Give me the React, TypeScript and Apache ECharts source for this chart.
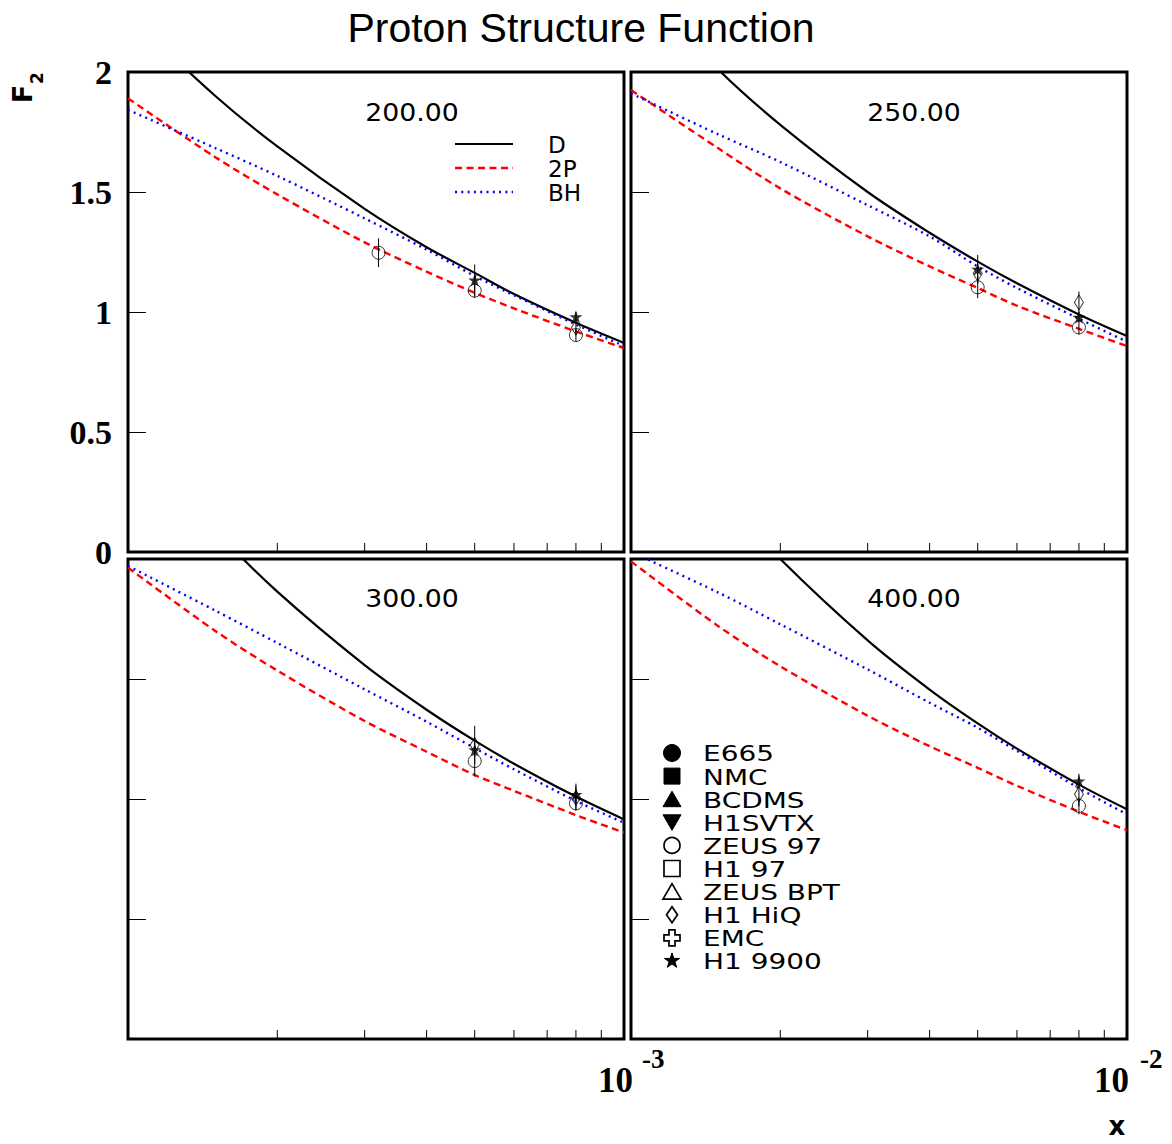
import React, { useEffect, useRef } from 'react';
import * as echarts from 'echarts';

// ---------- data ----------
const X_NODES = [0.001, 0.0015, 0.002, 0.003, 0.004, 0.005, 0.006, 0.008, 0.01];
const X_MINOR_TICKS = [0.002, 0.003, 0.004, 0.005, 0.006, 0.007, 0.008, 0.009];
const Q2_LABELS = ['200.00', '250.00', '300.00', '400.00'];

const D_200 = [2.24, 1.9, 1.69, 1.43, 1.27, 1.163, 1.075, 0.955, 0.871];
const P2_200 = [1.89, 1.645, 1.49, 1.29, 1.168, 1.08, 1.015, 0.919, 0.85];
const BH_200 = [1.842, 1.683, 1.567, 1.39, 1.26, 1.15, 1.07, 0.948, 0.858];

const D_250 = [2.39, 2.01, 1.78, 1.5, 1.33, 1.21, 1.12, 0.99, 0.9];
const P2_250 = [1.925, 1.682, 1.515, 1.315, 1.19, 1.1, 1.026, 0.93, 0.858];
const BH_250 = [1.911, 1.74, 1.625, 1.445, 1.315, 1.19, 1.1, 0.972, 0.876];

const D_300 = [2.53, 2.12, 1.864, 1.558, 1.372, 1.243, 1.147, 1.01, 0.915];
const P2_300 = [1.964, 1.7, 1.535, 1.325, 1.197, 1.1, 1.034, 0.933, 0.86];
const BH_300 = [1.971, 1.785, 1.65, 1.457, 1.322, 1.212, 1.124, 0.992, 0.901];

const D_400 = [2.75, 2.28, 2.0, 1.661, 1.456, 1.315, 1.21, 1.06, 0.957];
const P2_400 = [1.99, 1.72, 1.553, 1.347, 1.22, 1.13, 1.055, 0.947, 0.87];
const BH_400 = [2.03, 1.86, 1.728, 1.54, 1.401, 1.297, 1.2, 1.045, 0.936];

// [x, F2, error]
const ZEUS97_200 = [[0.0032, 1.247, 0.06], [0.005, 1.089, 0.03], [0.008, 0.904, 0.025]];
const H19900_200 = [[0.005, 1.133, 0.065], [0.008, 0.98, 0.02]];
const H1HIQ_200 = [[0.008, 0.935, 0.03]];

const ZEUS97_250 = [[0.005, 1.103, 0.045], [0.008, 0.936, 0.03]];
const H19900_250 = [[0.005, 1.178, 0.06], [0.008, 0.978, 0.02]];
const H1HIQ_250 = [[0.005, 1.16, 0.04], [0.008, 1.04, 0.045]];

const ZEUS97_300 = [[0.005, 1.158, 0.065], [0.008, 0.982, 0.03]];
const H19900_300 = [[0.005, 1.205, 0.03], [0.008, 1.019, 0.045]];
const H1HIQ_300 = [[0.005, 1.225, 0.08], [0.008, 1.005, 0.05]];

const ZEUS97_400 = [[0.008, 0.971, 0.035]];
const H19900_400 = [[0.008, 1.075, 0.03]];
const H1HIQ_400 = [[0.008, 1.02, 0.05]];

const CURVE_NAMES = ['D', '2P', 'BH'];
const EXPT_NAMES = ['E665', 'NMC', 'BCDMS', 'H1SVTX', 'ZEUS 97', 'H1 97', 'ZEUS BPT', 'H1 HiQ', 'EMC', 'H1 9900'];

// ---------- layout ----------
const PANELS = [
  { left: 128, top: 72, D: D_200, P: P2_200, B: BH_200, zeus: ZEUS97_200, star: H19900_200, hiq: H1HIQ_200, label: Q2_LABELS[0] },
  { left: 631, top: 72, D: D_250, P: P2_250, B: BH_250, zeus: ZEUS97_250, star: H19900_250, hiq: H1HIQ_250, label: Q2_LABELS[1] },
  { left: 128, top: 559, D: D_300, P: P2_300, B: BH_300, zeus: ZEUS97_300, star: H19900_300, hiq: H1HIQ_300, label: Q2_LABELS[2] },
  { left: 631, top: 559, D: D_400, P: P2_400, B: BH_400, zeus: ZEUS97_400, star: H19900_400, hiq: H1HIQ_400, label: Q2_LABELS[3] },
];
const PW = 496;
const PH = 480;

const STAR_PATH =
  'path://M0,-10L2.245,-3.09L9.51,-3.09L3.633,1.18L5.878,8.09L0,3.82L-5.878,8.09L-3.633,1.18L-9.51,-3.09L-2.245,-3.09Z';

function starPoints(cx: number, cy: number, R: number) {
  const pts: number[][] = [];
  for (let k = 0; k < 10; k++) {
    const r = k % 2 === 0 ? R : R * 0.382;
    const a = -Math.PI / 2 + (k * Math.PI) / 5;
    pts.push([cx + r * Math.cos(a), cy + r * Math.sin(a)]);
  }
  return pts;
}

function plusPoints(cx: number, cy: number, a: number, w: number) {
  return [
    [cx - w, cy - a], [cx + w, cy - a], [cx + w, cy - w], [cx + a, cy - w],
    [cx + a, cy + w], [cx + w, cy + w], [cx + w, cy + a], [cx - w, cy + a],
    [cx - w, cy + w], [cx - a, cy + w], [cx - a, cy - w], [cx - w, cy - w],
  ];
}

function txt(x: number, y: number, text: string, opts: any = {}) {
  const align = opts.align || 'left';
  const valign = opts.valign || 'middle';
  return {
    type: 'text',
    x,
    y,
    rotation: opts.rotation || 0,
    scaleX: opts.scaleX || 1,
    scaleY: opts.scaleY || 1,
    z: 100,
    style: {
      text,
      fontSize: opts.size || 20,
      fontFamily: opts.family || 'DejaVu Sans',
      fontWeight: opts.weight || 'normal',
      fill: opts.color || '#000',
      textAlign: align,
      align,
      textVerticalAlign: valign,
      verticalAlign: valign,
    },
  };
}

function buildOption() {
  const grid: any[] = [];
  const xAxis: any[] = [];
  const yAxis: any[] = [];
  const series: any[] = [];

  PANELS.forEach((p, i) => {
    grid.push({
      left: p.left,
      top: p.top,
      width: PW,
      height: PH,
      show: true,
      borderColor: '#000',
      borderWidth: 3,
      backgroundColor: 'transparent',
      containLabel: false,
      outerBoundsMode: 'none',
    });
    xAxis.push({
      type: 'log',
      logBase: 10,
      min: 0.001,
      max: 0.01,
      gridIndex: i,
      axisLine: { show: false },
      axisTick: { show: false },
      axisLabel: { show: false },
      splitLine: { show: false },
      minorTick: { show: false },
    });
    yAxis.push({
      type: 'value',
      min: 0,
      max: 2,
      interval: 0.5,
      gridIndex: i,
      axisLine: { show: false },
      axisTick: { show: true, inside: true, length: 18, lineStyle: { color: '#000', width: 1 } },
      splitLine: { show: false },
      axisLabel:
        i === 0
          ? { show: true, color: '#000', fontFamily: 'Liberation Serif', fontWeight: 'bold', fontSize: 34, margin: 16 }
          : { show: false },
    });

    const toPts = (arr: number[]) => X_NODES.map((x, k) => [x, arr[k]]);
    const lineBase = { type: 'line', xAxisIndex: i, yAxisIndex: i, showSymbol: false, smooth: 0.3, clip: true, silent: true, z: 3 };
    series.push({ ...lineBase, name: 'D', data: toPts(p.D), lineStyle: { color: '#000', width: 2.2, type: 'solid' } });
    series.push({ ...lineBase, name: '2P', data: toPts(p.P), lineStyle: { color: '#ff0000', width: 2.4, type: [7, 4.5] } });
    series.push({ ...lineBase, name: 'BH', data: toPts(p.B), lineStyle: { color: '#0000ff', width: 2.4, type: [2, 4.3] } });

    // minor x ticks along the bottom edge
    series.push({
      type: 'custom',
      xAxisIndex: i,
      yAxisIndex: i,
      silent: true,
      z: 4,
      data: X_MINOR_TICKS.map((v) => [v, 0]),
      renderItem: (params: any, api: any) => {
        const c = api.coord([api.value(0), 0]);
        return {
          type: 'line',
          shape: { x1: c[0], y1: c[1], x2: c[0], y2: c[1] - 9 },
          style: { stroke: '#000', lineWidth: 1 },
        };
      },
    });

    // error bars
    series.push({
      type: 'custom',
      xAxisIndex: i,
      yAxisIndex: i,
      silent: true,
      z: 5,
      data: [...p.zeus, ...p.star, ...p.hiq],
      renderItem: (params: any, api: any) => {
        const x = api.value(0);
        const y = api.value(1);
        const e = api.value(2);
        const a = api.coord([x, y - e]);
        const b = api.coord([x, y + e]);
        return {
          type: 'line',
          shape: { x1: a[0], y1: a[1], x2: b[0], y2: b[1] },
          style: { stroke: '#000', lineWidth: 1 },
        };
      },
    });

    const sc = { type: 'scatter', xAxisIndex: i, yAxisIndex: i, silent: true, z: 6 };
    series.push({
      ...sc,
      name: 'H1 HiQ',
      symbol: 'diamond',
      symbolSize: [9, 15],
      data: p.hiq.map((d) => [d[0], d[1]]),
      itemStyle: { color: 'rgba(0,0,0,0)', borderColor: '#000', borderWidth: 1 },
    });
    series.push({
      ...sc,
      name: 'ZEUS 97',
      symbol: 'circle',
      symbolSize: 13,
      data: p.zeus.map((d) => [d[0], d[1]]),
      itemStyle: { color: 'rgba(0,0,0,0)', borderColor: '#000', borderWidth: 1 },
    });
    series.push({
      ...sc,
      name: 'H1 9900',
      symbol: STAR_PATH,
      symbolSize: 13,
      data: p.star.map((d) => [d[0], d[1]]),
      itemStyle: { color: '#000' },
    });
  });

  const graphic: any[] = [];
  graphic.push(txt(581, 28, 'Proton Structure Function', { align: 'center', size: 41, family: 'Liberation Sans' }));
  graphic.push(txt(22, 94, 'F', { align: 'center', size: 27, weight: 'bold', rotation: Math.PI / 2 }));
  graphic.push(txt(37, 78, '2', { align: 'center', size: 17, weight: 'bold', rotation: Math.PI / 2 }));
  graphic.push(txt(1117, 1126, 'x', { align: 'center', size: 26, weight: 'bold' }));

  // x tick labels (10^-3 at the shared edge, 10^-2 at the right edge)
  graphic.push(txt(633, 1080, '10', { align: 'right', size: 35, weight: 'bold', family: 'Liberation Serif' }));
  graphic.push(txt(642, 1059, '-3', { align: 'left', size: 27, weight: 'bold', family: 'Liberation Serif' }));
  graphic.push(txt(1129, 1080, '10', { align: 'right', size: 35, weight: 'bold', family: 'Liberation Serif' }));
  graphic.push(txt(1140, 1059, '-2', { align: 'left', size: 27, weight: 'bold', family: 'Liberation Serif' }));

  // panel labels
  const labelPos = [[412, 112], [914, 112], [412, 598], [914, 598]];
  PANELS.forEach((p, i) => {
    graphic.push(txt(labelPos[i][0], labelPos[i][1], p.label, { align: 'center', size: 25, scaleX: 1.07 }));
  });

  // curve legend
  const curveStyles = [
    { stroke: '#000', lineDash: null, w: 2.2 },
    { stroke: '#ff0000', lineDash: [7, 4.5], w: 2.4 },
    { stroke: '#0000ff', lineDash: [2, 4.3], w: 2.4 },
  ];
  CURVE_NAMES.forEach((n, k) => {
    const y = 144 + k * 24;
    graphic.push({
      type: 'line',
      z: 100,
      shape: { x1: 455, y1: y, x2: 513, y2: y },
      style: { stroke: curveStyles[k].stroke, lineWidth: curveStyles[k].w, lineDash: curveStyles[k].lineDash },
    });
    graphic.push(txt(548, y + 1, n, { size: 22, scaleX: 1.05, scaleY: 1.08 }));
  });

  // experiment legend
  const mx = 672;
  EXPT_NAMES.forEach((n, k) => {
    const y = 753 + k * 23.1;
    const filled = { fill: '#000', stroke: '#000', lineWidth: 1 };
    const open = { fill: 'none', stroke: '#000', lineWidth: 1.7 };
    let el: any;
    switch (k) {
      case 0: el = { type: 'circle', shape: { cx: mx, cy: y, r: 8.5 }, style: filled }; break;
      case 1: el = { type: 'rect', shape: { x: mx - 8, y: y - 8, width: 16, height: 16 }, style: filled }; break;
      case 2: el = { type: 'polygon', shape: { points: [[mx - 9, y + 7.5], [mx + 9, y + 7.5], [mx, y - 8]] }, style: filled }; break;
      case 3: el = { type: 'polygon', shape: { points: [[mx - 9, y - 7.5], [mx + 9, y - 7.5], [mx, y + 8]] }, style: filled }; break;
      case 4: el = { type: 'circle', shape: { cx: mx, cy: y, r: 8 }, style: open }; break;
      case 5: el = { type: 'rect', shape: { x: mx - 8, y: y - 8, width: 16, height: 16 }, style: open }; break;
      case 6: el = { type: 'polygon', shape: { points: [[mx - 9, y + 7.5], [mx + 9, y + 7.5], [mx, y - 8]] }, style: open }; break;
      case 7: el = { type: 'polygon', shape: { points: [[mx, y - 8], [mx + 5.5, y], [mx, y + 8], [mx - 5.5, y]] }, style: open }; break;
      case 8: el = { type: 'polygon', shape: { points: plusPoints(mx, y, 8, 3) }, style: open }; break;
      default: el = { type: 'polygon', shape: { points: starPoints(mx, y, 8) }, style: filled }; break;
    }
    el.z = 100;
    graphic.push(el);
    graphic.push(txt(703, y + 1, n, { size: 22, scaleX: 1.27 }));
  });

  return {
    animation: false,
    backgroundColor: '#ffffff',
    grid,
    xAxis,
    yAxis,
    series,
    graphic,
  };
}

export default function App() {
  const ref = useRef<HTMLDivElement>(null);
  useEffect(() => {
    document.body.style.margin = '0';
    if (!ref.current) return;
    const chart = echarts.init(ref.current, null, { renderer: 'svg' });
    chart.setOption(buildOption() as any);
    return () => chart.dispose();
  }, []);
  return (
    <div
      ref={ref}
      style={{ position: 'absolute', left: 0, top: 0, width: 1172, height: 1144, background: '#fff' }}
    />
  );
}
